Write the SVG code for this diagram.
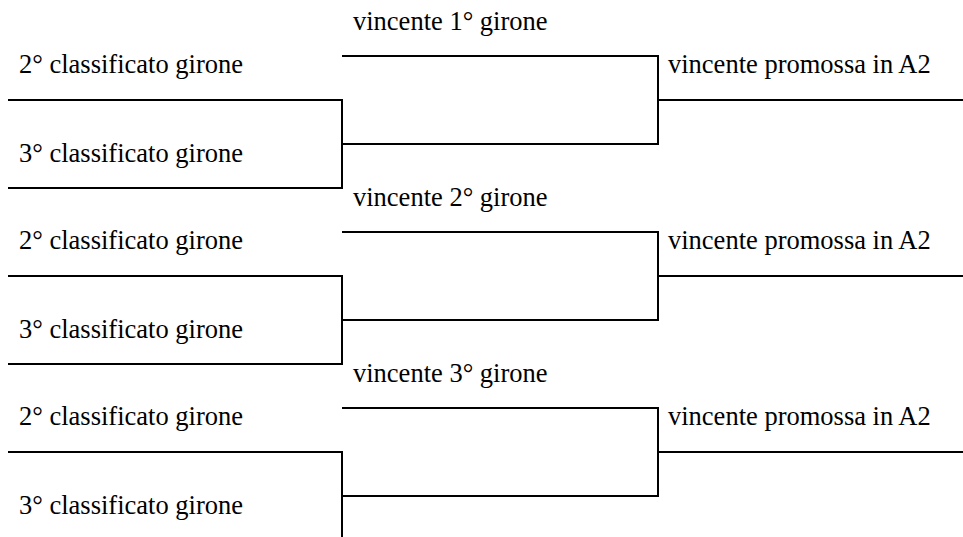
<svg xmlns="http://www.w3.org/2000/svg" width="963" height="537" viewBox="0 0 963 537">
<style>
.t{font-family:"Liberation Serif","Times New Roman",serif;font-size:26.5px;fill:#000}
.c{fill:none;stroke:#000;stroke-width:2;stroke-linecap:square}
</style>
<rect width="963" height="537" fill="#fff"/>
<g id="connectors">
  <path class="c" d="M9,100 H342 V188 H9 M342,144 H658 V56 H343 M658,100 H963"/>
  <path class="c" d="M9,276 H342 V364 H9 M342,320 H658 V232 H343 M658,276 H963"/>
  <path class="c" d="M9,452 H342 V545 M342,496 H658 V408 H343 M658,452 H963"/>
</g>
<g id="g1-second"><text class="t" x="19" y="73">2° classificato girone</text></g>
<g id="g1-third"><text class="t" x="19" y="162">3° classificato girone</text></g>
<g id="g1-winner"><text class="t" x="353" y="30">vincente 1° girone</text></g>
<g id="g1-promoted"><text class="t" x="668" y="73">vincente promossa in A2</text></g>
<g id="g2-second"><text class="t" x="19" y="249">2° classificato girone</text></g>
<g id="g2-third"><text class="t" x="19" y="338">3° classificato girone</text></g>
<g id="g2-winner"><text class="t" x="353" y="206">vincente 2° girone</text></g>
<g id="g2-promoted"><text class="t" x="668" y="249">vincente promossa in A2</text></g>
<g id="g3-second"><text class="t" x="19" y="425">2° classificato girone</text></g>
<g id="g3-third"><text class="t" x="19" y="514">3° classificato girone</text></g>
<g id="g3-winner"><text class="t" x="353" y="382">vincente 3° girone</text></g>
<g id="g3-promoted"><text class="t" x="668" y="425">vincente promossa in A2</text></g>
</svg>
